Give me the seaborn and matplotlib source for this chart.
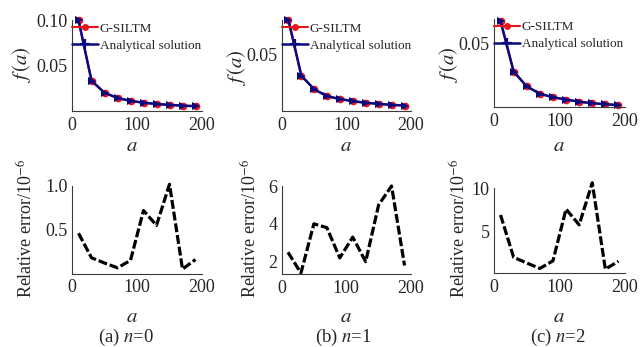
import numpy as np
import pandas as pd
import matplotlib
matplotlib.use("Agg")
import matplotlib.pyplot as plt
from matplotlib.lines import Line2D
import seaborn as sns

# ---------------- data ----------------
a_vals = [10, 30, 50, 70, 90, 110, 130, 150, 170, 190]

f_n0 = [0.100, 0.0333, 0.0200, 0.0143, 0.0111, 0.0091, 0.0077, 0.0067, 0.0059, 0.0053]
f_n1 = [0.080, 0.0310, 0.0190, 0.0130, 0.0105, 0.0086, 0.0072, 0.0063, 0.0054, 0.0048]
f_n2 = [0.068, 0.0280, 0.0163, 0.0105, 0.0077, 0.0059, 0.0042, 0.0030, 0.0022, 0.0015]

err_n0 = [0.46, 0.18, 0.12, 0.065, 0.15, 0.72, 0.55, 1.02, 0.05, 0.16]
err_n1 = [2.5, 1.4, 4.0, 3.8, 2.2, 3.3, 2.0, 5.0, 6.0, 1.8]
err_n2 = [6.9, 2.04, 1.4, 0.77, 1.65, 7.58, 5.77, 10.6, 0.69, 1.6]

captions = ["(a) ", "(b) ", "(c) "]
n_labels = ["0", "1", "2"]
legend_labels = ["G-SILTM", "Analytical solution"]
x_ticks = [0, 100, 200]

top_yticks = [[0.05, 0.10], [0.05], [0.05]]
top_yticklabels = [["0.05", "0.10"], ["0.05"], ["0.05"]]
top_ylims = [(0, 0.10), (0, 0.08), (0, 0.07)]
bot_yticks = [[0.5, 1.0], [2, 4, 6], [5, 10]]
bot_yticklabels = [["0.5", "1.0"], ["2", "4", "6"], ["5", "10"]]
bot_ylims = [(0, 1.0), (1.35, 6.0), (0.25, 10.0)]

# ---------------- style ----------------
sns.set_style("white")
plt.rcParams["font.family"] = ["Liberation Serif", "DejaVu Serif"]
plt.rcParams["mathtext.fontset"] = "stix"

W, H = 642, 347
fig = plt.figure(figsize=(W / 100, H / 100), dpi=100)

def box(l, r, t, b):
    return [l / W, 1 - b / H, (r - l) / W, (b - t) / H]

top_boxes = [box(72, 202, 20, 111), box(282, 411, 20, 111), box(494, 625, 18.5, 107)]
bot_boxes = [box(72, 202, 186, 273.5), box(281.5, 411, 186, 274), box(494, 625, 188, 273)]

f_series = [f_n0, f_n1, f_n2]
err_series = [err_n0, err_n1, err_n2]

RED = "#e8141c"
NAVY = "#0a0a80"
SPINE = "#3a3a3a"
TICKFS = 13

def style_axes(ax):
    sns.despine(ax=ax)
    for s in ["left", "bottom"]:
        ax.spines[s].set_color(SPINE)
        ax.spines[s].set_linewidth(0.8)
    ax.tick_params(direction="in", length=3, width=0.8, color=SPINE,
                   labelsize=TICKFS, pad=4)
    ax.tick_params(axis="y", pad=3)
    ax.set_xlim(0, 200)
    ax.set_xticks(x_ticks)
    ax.set_xticklabels([str(t) for t in x_ticks])
    ax.set_xlabel("")
    ax.set_ylabel("")

for i in range(3):
    # ---- top panel ----
    ax = fig.add_axes(top_boxes[i])
    df = pd.DataFrame({"a": a_vals, "f": f_series[i]})
    sns.lineplot(data=df, x="a", y="f", ax=ax, color=RED, lw=1.5,
                 marker="o", markersize=5.5, markeredgewidth=0, clip_on=False)
    sns.lineplot(data=df, x="a", y="f", ax=ax, color=NAVY, lw=1.8,
                 marker=">", markersize=5.5, markeredgewidth=0, clip_on=False)
    style_axes(ax)
    ax.set_ylim(*top_ylims[i])
    ax.set_yticks(top_yticks[i])
    ax.set_yticklabels(top_yticklabels[i])
    handles = [
        Line2D([], [], color=RED, lw=1.5, marker="o", markersize=5, markeredgewidth=0),
        Line2D([], [], color=NAVY, lw=1.8, marker="+", markersize=7, markeredgewidth=1.6),
    ]
    ax.legend(handles, legend_labels, loc="upper left", bbox_to_anchor=(0.0, 0.97),
              frameon=False, fontsize=9.5, handlelength=2.0, handletextpad=0.1,
              borderpad=0.0, borderaxespad=0.0, labelspacing=0.35)

    # ---- bottom panel ----
    axb = fig.add_axes(bot_boxes[i])
    dfe = pd.DataFrame({"a": a_vals, "e": err_series[i]})
    sns.lineplot(data=dfe, x="a", y="e", ax=axb, color="black", lw=2.3,
                 dashes=False, clip_on=False)
    axb.lines[-1].set_dashes((2.8, 0.9))
    style_axes(axb)
    axb.set_ylim(*bot_ylims[i])
    axb.set_yticks(bot_yticks[i])
    axb.set_yticklabels(bot_yticklabels[i])

def px(x, y):
    return x / W, 1 - y / H

# y labels
top_ylab_x = [22, 237, 448]
top_ylab_y = [65, 68, 65]
bot_ylab_x = [27, 251, 460]
bot_ylab_y = [228, 228, 228]
for i in range(3):
    fig.text(*px(top_ylab_x[i], top_ylab_y[i]), r"$f\,(a)$", rotation=90,
             ha="center", va="center", fontsize=15)
    fig.text(*px(bot_ylab_x[i], bot_ylab_y[i]), r"Relative error/10$^{-6}$",
             rotation=90, ha="center", va="center", fontsize=13)

# x labels and captions
xlab_x = [132, 346, 559]
cap_x = [126, 343, 558]
for i in range(3):
    fig.text(*px(xlab_x[i], 146), r"$a$", ha="center", va="center", fontsize=15)
    fig.text(*px(xlab_x[i], 317), r"$a$", ha="center", va="center", fontsize=15)
    fig.text(*px(cap_x[i], 337), captions[i] + r"$n$=" + n_labels[i],
             ha="center", va="center", fontsize=13.5)

fig.savefig("out.png", dpi=100)
